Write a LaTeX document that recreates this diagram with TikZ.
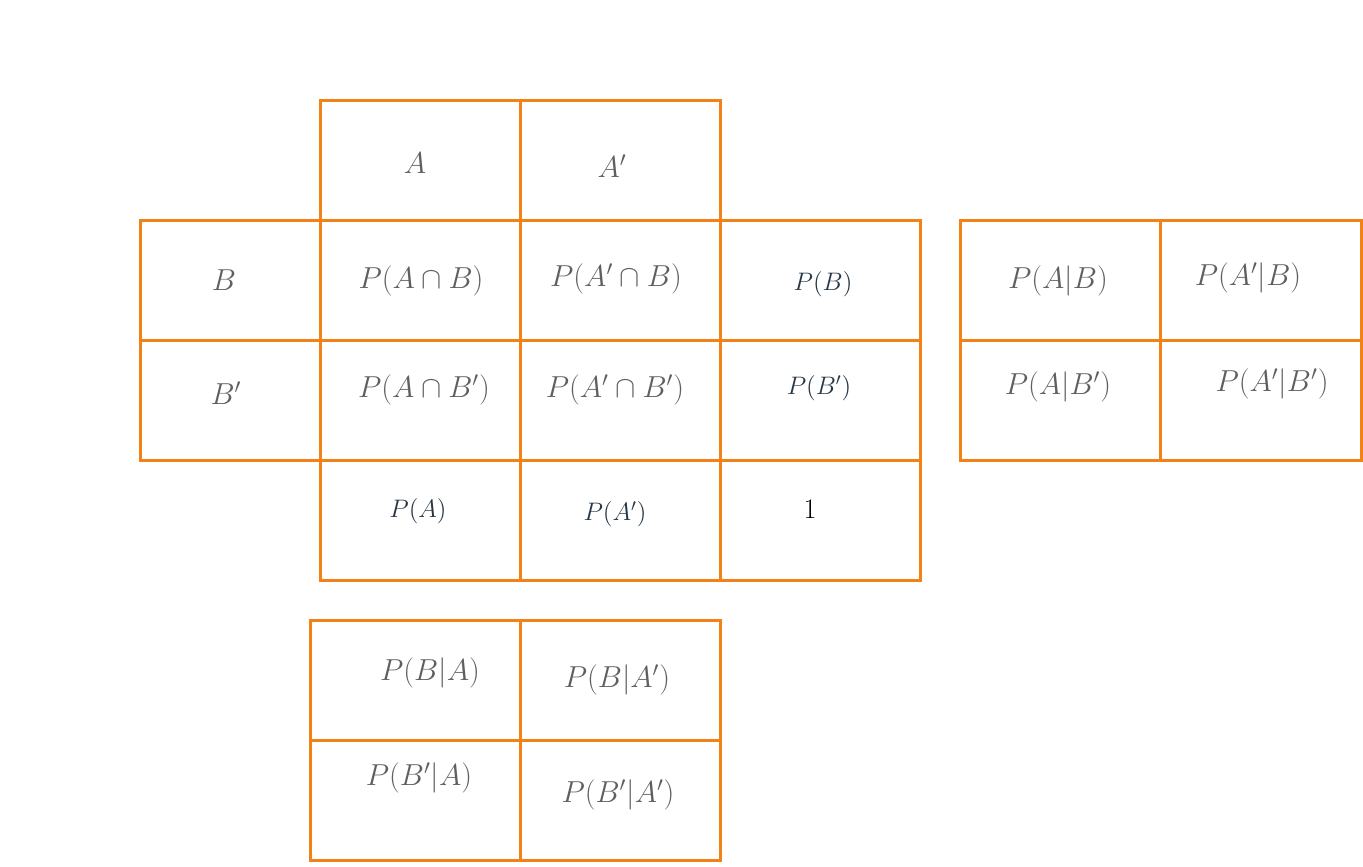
\documentclass[tikz,border=0pt]{standalone}
\usepackage{amsmath}
\definecolor{grid}{RGB}{242,130,22}
\definecolor{txt}{RGB}{95,95,95}
\definecolor{dtxt}{RGB}{40,55,70}
\begin{document}
\begin{tikzpicture}[x=0.02cm,y=-0.02cm,
  cell/.style={draw=grid,line width=0.06cm},
  lbl/.style={text=txt,font=\fontsize{16.5}{20}\selectfont,inner sep=0pt},
  slbl/.style={text=dtxt,font=\fontsize{14}{17}\selectfont,inner sep=0pt}]
\useasboundingbox (0,0) rectangle (1363,866);
% main table
\draw[cell] (320,100) rectangle (520,220);
\draw[cell] (520,100) rectangle (720,220);
\foreach \y in {220,340} {
  \draw[cell] (140,\y) rectangle (320,\y+120);
  \draw[cell] (320,\y) rectangle (520,\y+120);
  \draw[cell] (520,\y) rectangle (720,\y+120);
  \draw[cell] (720,\y) rectangle (920,\y+120);
}
\draw[cell] (320,460) rectangle (520,580);
\draw[cell] (520,460) rectangle (720,580);
\draw[cell] (720,460) rectangle (920,580);
% right table
\foreach \y in {220,340} {
  \draw[cell] (960,\y) rectangle (1160,\y+120);
  \draw[cell] (1160,\y) rectangle (1361,\y+120);
}
% bottom table
\foreach \y in {620,740} {
  \draw[cell] (310,\y) rectangle (520,\y+120);
  \draw[cell] (520,\y) rectangle (720,\y+120);
}
% labels
\node[lbl] (hA) at (415,163) {$A$};
\node[lbl] (hAp) at (612,166) {$A'$};
\node[lbl] (hB) at (224,280) {$B$};
\node[lbl] (hBp) at (226,393) {$B'$};
\node[lbl] (AB) at (421,281) {$P(A\cap B)$};
\node[lbl] (ApB) at (616,279) {$P(A'\cap B)$};
\node[slbl] (PB) at (823,284) {$P(B)$};
\node[lbl] (ABp) at (424,390) {$P(A\cap B')$};
\node[lbl] (ApBp) at (615,390) {$P(A'\cap B')$};
\node[slbl] (PBp) at (819,388) {$P(B')$};
\node[slbl] (PA) at (418,511) {$P(A)$};
\node[slbl] (PAp) at (615,514) {$P(A')$};
\node[text=black,font=\fontsize{16}{19}\selectfont,inner sep=0pt] (one) at (810,509) {1};
\node[lbl] (AgB) at (1058,281) {$P(A|B)$};
\node[lbl] (ApgB) at (1248,278) {$P(A'|B)$};
\node[lbl] (AgBp) at (1058,387) {$P(A|B')$};
\node[lbl] (ApgBp) at (1272,384) {$P(A'|B')$};
\node[lbl] (BgA) at (430,673) {$P(B|A)$};
\node[lbl] (BgAp) at (617,680) {$P(B|A')$};
\node[lbl] (BpgA) at (419,778) {$P(B'|A)$};
\node[lbl] (BpgAp) at (618,795) {$P(B'|A')$};
\end{tikzpicture}
\end{document}
